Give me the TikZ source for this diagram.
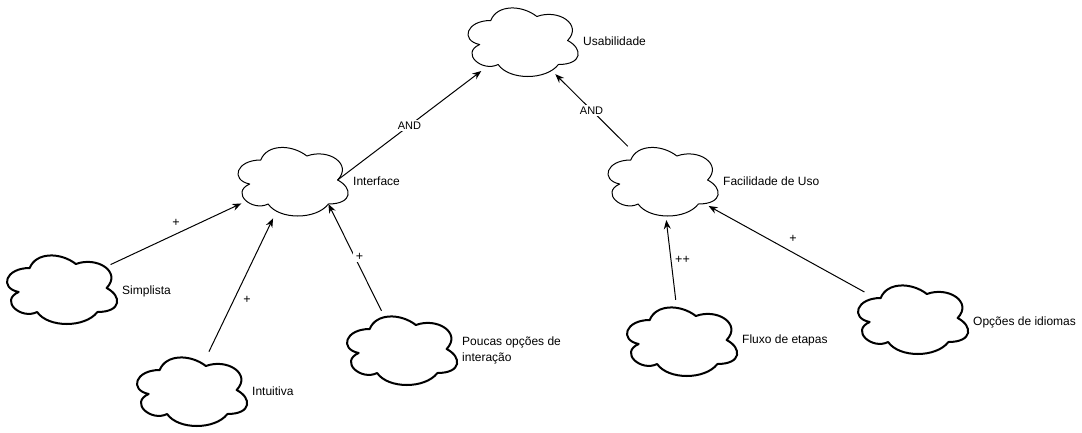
\documentclass[tikz,border=0pt]{standalone}
\usepackage{fontspec}
\setmainfont{Liberation Sans}
\usetikzlibrary{arrows.meta,shapes.geometric}
\newcommand\drawsoftgoal[2]{%
  \draw[line width=#2, fill=white, line join=round, shift={(#1.center)}, xshift=-61.5pt, yshift=40pt, x=123pt, y=-80pt]
    (0.25,0.25) .. controls (0.05,0.25) and (0,0.5) .. (0.16,0.55)
    .. controls (0,0.66) and (0.18,0.9) .. (0.31,0.8)
    .. controls (0.4,1) and (0.7,1) .. (0.8,0.8)
    .. controls (1,0.8) and (1,0.6) .. (0.875,0.5)
    .. controls (1,0.3) and (0.8,0.1) .. (0.625,0.2)
    .. controls (0.5,0.05) and (0.3,0.05) .. (0.25,0.25) -- cycle;}
\begin{document}
\begin{tikzpicture}[x=1pt,y=-1pt,
  sg/.style={ellipse, minimum width=123pt, minimum height=80pt, inner sep=0pt},
  lbl/.style={anchor=west, font=\fontsize{12}{16}\selectfont, align=left, inner sep=0pt},
  link/.style={line width=1pt, -{Stealth[length=9pt,width=7pt]}},
  elbl/.style={font=\fontsize{11}{13}\selectfont, inner sep=1.5pt},
  plbl/.style={font=\fontsize{12.5}{14}\selectfont, inner sep=1.5pt},
]
\useasboundingbox (0,0) rectangle (1082,432);
% softgoal nodes
\node[sg] (usab)  at (521.5,40.5) {};
\node[sg] (inter) at (291.5,180) {};
\node[sg] (facil) at (661.5,180) {};
\node[sg] (simp)  at (60.5,288) {};
\node[sg] (intu)  at (190.5,390) {};
\node[sg] (pouc)  at (400.5,349) {};
\node[sg] (flux)  at (680.5,340) {};
\node[sg] (opc)   at (911.5,318) {};
% cloud outlines
\drawsoftgoal{usab}{1pt}
\drawsoftgoal{inter}{1pt}
\drawsoftgoal{facil}{1pt}
\drawsoftgoal{simp}{2pt}
\drawsoftgoal{intu}{2pt}
\drawsoftgoal{pouc}{2pt}
\drawsoftgoal{flux}{2pt}
\drawsoftgoal{opc}{2pt}
% labels
\node[lbl] (usabt)  at (583,41)  {Usabilidade};
\node[lbl] (intert) at (353,181) {Interface};
\node[lbl] (facilt) at (723,181) {Facilidade de Uso};
\node[lbl] (simpt)  at (122,291) {Simplista};
\node[lbl] (intut)  at (252,391) {Intuitiva};
\node[lbl] (pouct)  at (462,350) {Poucas opções de\\interação};
\node[lbl] (fluxt)  at (742,340) {Fluxo de etapas};
\node[lbl] (opct)   at (973,322) {Opções de idiomas};
% connectors
\draw[link] ([xshift=46.1pt]inter.center) -- node[elbl, midway, fill=white] (and1) {AND} (usab);
\draw[link] (facil.135) -- node[elbl, midway, fill=white] (and2) {AND} (usab);
\draw[link] (simp) -- node[plbl, midway, yshift=11pt] (c1) {+} (inter);
\draw[link] (intu) -- node[plbl, pos=0.39, xshift=13pt] (c2) {+} (inter);
\draw[link] (pouc) -- node[plbl, midway, fill=white, inner xsep=3pt, xshift=4.5pt] (c3) {+} ([xshift=36.9pt,yshift=-24pt]inter.center);
\draw[link] (flux) -- node[plbl, midway, xshift=11.5pt] (c4) {++} (facil);
\draw[link] (opc) -- node[plbl, midway, xshift=6.5pt, yshift=10pt] (c5) {+} (facil);
\end{tikzpicture}
\end{document}
